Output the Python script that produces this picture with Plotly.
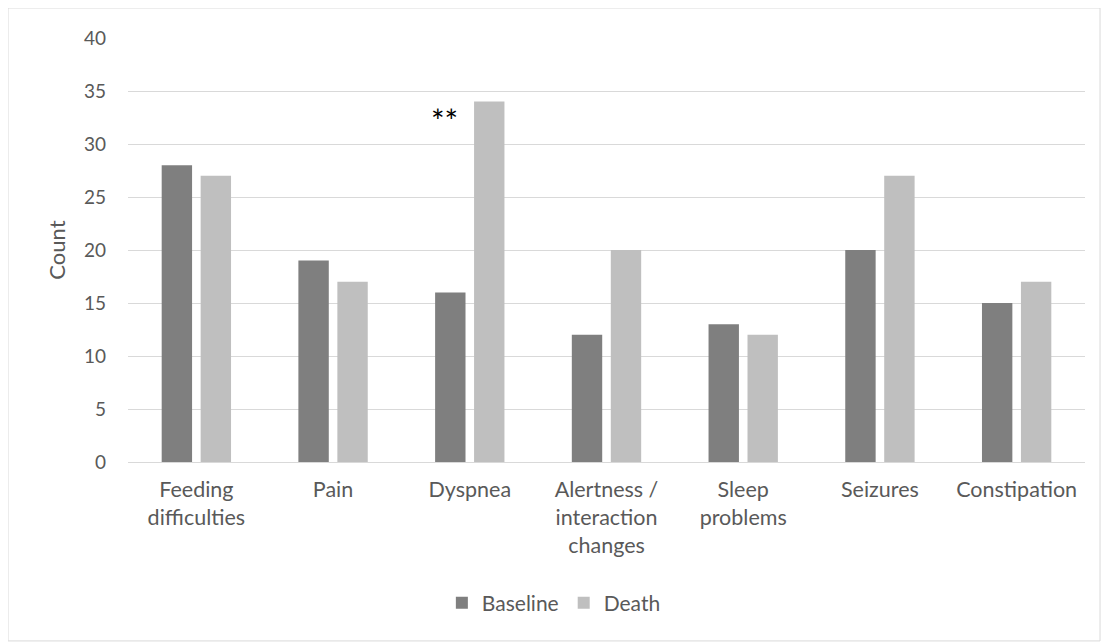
import plotly.graph_objects as go

categories = ["Feeding<br>difficulties", "Pain", "Dyspnea", "Alertness /<br>interaction<br>changes",
              "Sleep<br>problems", "Seizures", "Constipation"]
baseline = [28, 19, 16, 12, 13, 20, 15]
death = [27, 17, 34, 20, 12, 27, 17]

FONT = "Lato"

fig = go.Figure()
fig.add_trace(go.Bar(name="Baseline", x=categories, y=baseline, marker_color="#7f7f7f",
                     marker_line_width=0))
fig.add_trace(go.Bar(name="Death", x=categories, y=death, marker_color="#bfbfbf",
                     marker_line_width=0))

fig.add_annotation(x="Dyspnea", y=34, text="**", showarrow=False, xshift=-25, yanchor="middle",
                   yshift=-19, font=dict(size=32, color="#000000", family=FONT))

fig.add_shape(type="rect", xref="paper", yref="paper", x0=-0.1254, x1=1.0157, y0=-0.422, y1=1.0708,
              line=dict(color="#d9d9d9", width=1), fillcolor="rgba(0,0,0,0)", layer="below")

fig.update_layout(
    width=1093, height=634,
    margin=dict(l=120, r=16, t=30, b=180),
    plot_bgcolor="white", paper_bgcolor="white",
    barmode="group", bargap=0.43, bargroupgap=0.22,
    font=dict(family=FONT, size=21, color="#595959"),
    legend=dict(orientation="h", x=0.445, xanchor="center", y=-0.3325, yanchor="middle",
                font=dict(size=21, color="#595959"), itemwidth=30, traceorder="normal"),
    xaxis=dict(showline=True, linecolor="#d9d9d9", linewidth=1, ticks="",
               tickfont=dict(size=21.5), ticklabelstandoff=8),
    yaxis=dict(range=[0, 40], dtick=5, showgrid=True, gridcolor="#d9d9d9", gridwidth=1,
               zeroline=False, showline=False, ticks="", tickfont=dict(size=19),
               ticklabelstandoff=21,
               title=dict(text="Count", font=dict(size=22, color="#595959"), standoff=12)),
)

fig.write_html("out.html")
